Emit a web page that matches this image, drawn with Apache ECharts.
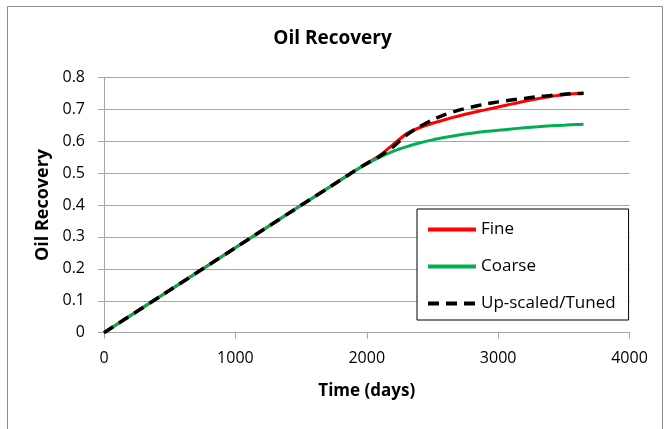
<!DOCTYPE html>
<html>
<head>
<meta charset="utf-8">
<script src="https://cdn.jsdelivr.net/npm/echarts@6/dist/echarts.min.js"></script>
<style>
html,body{margin:0;padding:0;background:#fff;}
#c{width:665px;height:429px;}
</style>
</head>
<body>
<div id="c"></div>
<script>
var days   = [0, 500, 1000, 1500, 1800, 1900, 2000, 2100, 2200, 2300, 2400, 2500, 2600, 2700, 2800, 2900, 3000, 3100, 3200, 3300, 3400, 3500, 3600, 3650];
var fine   = [0, 0.133, 0.266, 0.399, 0.478, 0.505, 0.530, 0.555, 0.589, 0.622, 0.642, 0.656, 0.668, 0.679, 0.689, 0.698, 0.707, 0.716, 0.725, 0.733, 0.740, 0.745, 0.749, 0.750];
var coarse = [0, 0.133, 0.266, 0.399, 0.478, 0.505, 0.529, 0.550, 0.568, 0.582, 0.594, 0.604, 0.612, 0.619, 0.625, 0.630, 0.634, 0.638, 0.642, 0.645, 0.648, 0.650, 0.652, 0.653];
var tuned  = [0, 0.133, 0.266, 0.399, 0.478, 0.505, 0.530, 0.553, 0.582, 0.618, 0.645, 0.667, 0.684, 0.697, 0.707, 0.716, 0.723, 0.729, 0.734, 0.739, 0.743, 0.747, 0.749, 0.750];
var seriesNames = ['Fine', 'Coarse', 'Up-scaled/Tuned'];

function pairs(ys){ return days.map(function(d,i){ return [d, ys[i]]; }); }

var FONT = '"Open Sans", sans-serif';
var chart = echarts.init(document.getElementById('c'), null, {renderer:'canvas'});
chart.setOption({
  animation: false,
  backgroundColor: '#fff',
  textStyle: {fontFamily: FONT},
  title: {
    text: 'Oil Recovery', left: 'center', top: 24,
    textStyle: {fontFamily: FONT, fontSize: 19, fontWeight: 'bold', color: '#000'}
  },
  graphic: [{
    type: 'rect', left: 5, top: 4, silent: true, z: -1,
    shape: {width: 655, height: 440},
    style: {fill: 'none', stroke: '#8c8c8c', lineWidth: 1}
  }],
  grid: {left: 104, right: 35.5, top: 77.3, bottom: 96.3, containLabel: false},
  xAxis: {
    type: 'value', min: 0, max: 4000, interval: 1000,
    name: 'Time (days)', nameLocation: 'middle', nameGap: 50,
    nameTextStyle: {fontFamily: FONT, fontSize: 17, fontWeight: 'bold', color: '#000'},
    axisLine: {show: true, lineStyle: {color: '#a6a6a6', width: 1}},
    axisTick: {show: true, length: 6, inside: false, lineStyle: {color: '#a6a6a6'}},
    axisLabel: {fontFamily: FONT, fontSize: 16, color: '#000', margin: 18,
      formatter: function(v){ return String(v); }},
    splitLine: {show: false}
  },
  yAxis: {
    type: 'value', min: 0, max: 0.8, interval: 0.1,
    name: 'Oil Recovery', nameLocation: 'middle', nameGap: 52, nameRotate: 90,
    nameTextStyle: {fontFamily: FONT, fontSize: 18, fontWeight: 'bold', color: '#000'},
    axisLine: {show: true, lineStyle: {color: '#a6a6a6', width: 1}},
    axisTick: {show: true, length: 6, lineStyle: {color: '#a6a6a6'}},
    axisLabel: {fontFamily: FONT, fontSize: 16, color: '#000', margin: 19,
      formatter: function(v){ return v === 0 ? '0' : String(Math.round(v*10)/10); }},
    splitLine: {show: true, lineStyle: {color: '#a6a6a6', width: 1}}
  },
  legend: {
    show: true,
    orient: 'vertical', left: 417, top: 209,
    padding: [12, 13, 8, 9],
    itemWidth: 48, itemHeight: 18, itemGap: 20,
    backgroundColor: '#fff', borderColor: '#000', borderWidth: 1,
    textStyle: {fontFamily: FONT, fontSize: 17, color: '#000'},
    itemStyle: {opacity: 0},
    lineStyle: {width: 4},
    data: seriesNames
  },
  series: [
    {name: seriesNames[0], type: 'line', data: pairs(fine), symbol: 'none', smooth: 0.2,
     lineStyle: {color: '#ff0000', width: 3}, itemStyle: {color: '#ff0000'}, z: 2},
    {name: seriesNames[1], type: 'line', data: pairs(coarse), symbol: 'none', smooth: 0.2,
     lineStyle: {color: '#00b050', width: 3}, itemStyle: {color: '#00b050'}, z: 3},
    {name: seriesNames[2], type: 'line', data: pairs(tuned), symbol: 'none', smooth: 0.2,
     lineStyle: {color: '#000', width: 3.5, type: [11, 7]}, itemStyle: {color: '#000'}, z: 4}
  ]
});
</script>
</body>
</html>
